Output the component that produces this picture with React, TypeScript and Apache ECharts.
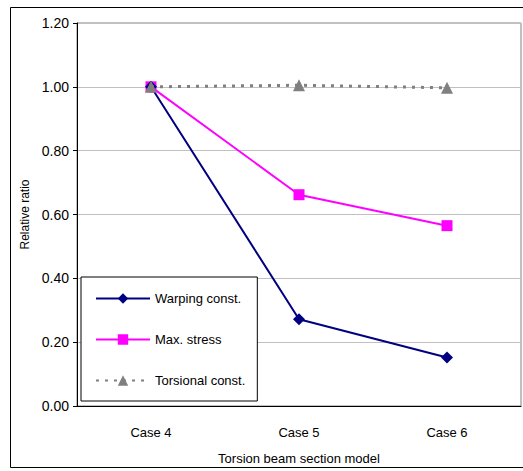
import React, { useEffect, useRef } from "react";
import * as echarts from "echarts";

const categories = ["Case 4", "Case 5", "Case 6"];
const warping = [1.0, 0.272, 0.152];
const maxStress = [1.0, 0.662, 0.565];
const torsional = [1.0, 1.005, 0.997];
const yTicks = { min: 0, max: 1.2, interval: 0.2 };

export default function App() {
  const ref = useRef<HTMLDivElement>(null);
  useEffect(() => {
    const chart = echarts.init(ref.current!, null, { renderer: "svg" });
    const font = "Liberation Sans";
    chart.setOption({
      animation: false,
      backgroundColor: "#ffffff",
      graphic: [
        {
          type: "rect",
          shape: { x: 10.5, y: 7.5, width: 520, height: 460 },
          style: { fill: "none", stroke: "#000", lineWidth: 1 },
          silent: true,
          z: 0,
        },
      ],
      grid: {
        left: 77,
        top: 23,
        right: 2,
        bottom: 65,
        show: true,
        borderColor: "#808080",
        borderWidth: 1,
        backgroundColor: "transparent",
        containLabel: false,
        outerBoundsMode: "none",
      },
      legend: {
        orient: "vertical",
        left: 81,
        top: 277,
        padding: [15, 12, 14, 14],
        itemWidth: 54,
        itemHeight: 13,
        itemGap: 28,
        backgroundColor: "#fff",
        borderColor: "#000",
        borderWidth: 1,
        textStyle: { fontFamily: font, fontSize: 13, color: "#000", letterSpacing: -0.6 },
        data: ["Warping const.", "Max. stress", "Torsional const."],
      },
      xAxis: {
        type: "category",
        data: categories,
        boundaryGap: true,
        name: "Torsion beam section model",
        nameLocation: "middle",
        nameGap: 46,
        nameTextStyle: { fontFamily: font, fontSize: 13, color: "#000", letterSpacing: -0.6 },
        axisLine: { lineStyle: { color: "#000", width: 1 } },
        axisTick: { inside: true, length: 6, lineStyle: { color: "#000" } },
        axisLabel: { fontFamily: font, fontSize: 13, color: "#000", margin: 20, letterSpacing: -0.6 },
        splitLine: { show: false },
      },
      yAxis: {
        type: "value",
        min: yTicks.min,
        max: yTicks.max,
        interval: yTicks.interval,
        name: "Relative ratio",
        nameLocation: "middle",
        nameGap: 44,
        nameTextStyle: { fontFamily: font, fontSize: 12, color: "#000", letterSpacing: -0.5 },
        axisLine: { show: true, lineStyle: { color: "#000", width: 1 } },
        axisTick: { show: true, length: 4, lineStyle: { color: "#000" } },
        axisLabel: {
          fontFamily: font,
          fontSize: 14,
          color: "#000",
          margin: 8,
          letterSpacing: -0.6,
          formatter: (v: number) => v.toFixed(2),
        },
        splitLine: { show: true, lineStyle: { color: "#c0c0c0", width: 1 } },
      },
      series: [
        {
          name: "Warping const.",
          type: "line",
          data: warping,
          symbol: "diamond",
          symbolSize: 12,
          lineStyle: { color: "#000080", width: 2 },
          itemStyle: { color: "#000080" },
          z: 3,
        },
        {
          name: "Max. stress",
          type: "line",
          data: maxStress,
          symbol: "rect",
          symbolSize: 11,
          lineStyle: { color: "#ff00ff", width: 2 },
          itemStyle: { color: "#ff00ff" },
          z: 2,
        },
        {
          name: "Torsional const.",
          type: "line",
          data: torsional,
          symbol: "triangle",
          symbolSize: 12,
          lineStyle: { color: "#808080", width: 3, type: [3, 6] },
          itemStyle: { color: "#808080" },
          z: 4,
        },
      ],
    });
    return () => chart.dispose();
  }, []);
  return (
    <div
      ref={ref}
      style={{ position: "fixed", left: 0, top: 0, width: 523, height: 471 }}
    />
  );
}
